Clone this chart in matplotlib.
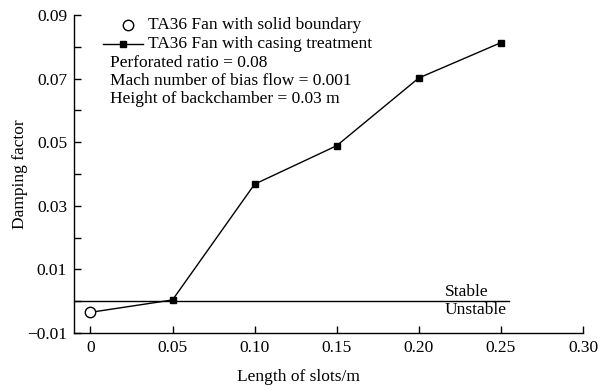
import matplotlib
matplotlib.use('Agg')
import matplotlib.pyplot as plt
from matplotlib.ticker import FixedLocator

plt.rcParams['font.family'] = ['Liberation Serif', 'DejaVu Serif']

# data
solid_x = [0.0]
solid_y = [-0.0035]
casing_x = [0.05, 0.10, 0.15, 0.20, 0.25]
casing_y = [0.0004, 0.0368, 0.0489, 0.0702, 0.0813]
xticks = [0, 0.05, 0.10, 0.15, 0.20, 0.25, 0.30]
xtick_labels = ['0', '0.05', '0.10', '0.15', '0.20', '0.25', '0.30']
yticks = [-0.01, 0.01, 0.03, 0.05, 0.07, 0.09]
ytick_labels = ['\u22120.01', '0.01', '0.03', '0.05', '0.07', '0.09']
legend_labels = ['TA36 Fan with solid boundary', 'TA36 Fan with casing treatment']
notes = ['Perforated ratio = 0.08',
         'Mach number of bias flow = 0.001',
         'Height of backchamber = 0.03 m']

fs = 12.5
fig = plt.figure(figsize=(6.04, 3.91), dpi=100)
ax = fig.add_axes([0.1225, 0.1483, 0.8427, 0.8133])

# solid-boundary point joined to the first casing point
ax.plot([solid_x[0], casing_x[0]], [solid_y[0], casing_y[0]], color='black', lw=1.0)
ax.plot(casing_x, casing_y, color='black', lw=1.0, marker='s', ms=4.5)
ax.plot(solid_x, solid_y, ls='none', marker='o', ms=7.5, mfc='white', mec='black',
        mew=1.0, zorder=5)

# stability boundary
ax.plot([-0.01, 0.255], [0, 0], color='black', lw=1.0)
ax.text(0.216, 0.0004, 'Stable', fontsize=fs, ha='left', va='bottom')
ax.text(0.216, -0.0004, 'Unstable', fontsize=fs, ha='left', va='top')

ax.set_xlim(-0.01, 0.30)
ax.set_ylim(-0.01, 0.09)
ax.set_xticks(xticks)
ax.set_xticklabels(xtick_labels)
ax.set_yticks(yticks)
ax.set_yticklabels(ytick_labels)
ax.yaxis.set_minor_locator(FixedLocator([0.0, 0.02, 0.04, 0.06, 0.08]))
ax.tick_params(which='both', direction='in', labelsize=fs, width=1.0, length=5)
ax.tick_params(axis='x', pad=5)
ax.tick_params(axis='y', pad=5)
ax.spines['top'].set_visible(False)
ax.spines['right'].set_visible(False)
for s in ['left', 'bottom']:
    ax.spines[s].set_linewidth(1.0)

ax.set_xlabel('Length of slots/m', fontsize=fs)
ax.xaxis.set_label_coords(0.44, -0.112)
ax.set_ylabel('Damping factor', fontsize=fs)
ax.yaxis.set_label_coords(-0.09, 0.5)

# hand-made legend
tr = ax.transAxes
ax.plot([0.106], [0.9686], transform=tr, ls='none', marker='o', ms=7.5,
        mfc='white', mec='black', mew=1.0, clip_on=False)
ax.text(0.145, 0.9686, legend_labels[0], transform=tr, fontsize=fs, va='center')
ax.plot([0.057, 0.1356], [0.909, 0.909], transform=tr, color='black', lw=1.0,
        clip_on=False)
ax.plot([0.0963], [0.909], transform=tr, ls='none', marker='s', ms=4.5,
        color='black', clip_on=False)
ax.text(0.145, 0.909, legend_labels[1], transform=tr, fontsize=fs, va='center')

for i, t in enumerate(notes):
    ax.text(0.0707, 0.849 - i * 0.0565, t, transform=tr, fontsize=fs,
            ha='left', va='center')

fig.savefig('out.png', dpi=100)
